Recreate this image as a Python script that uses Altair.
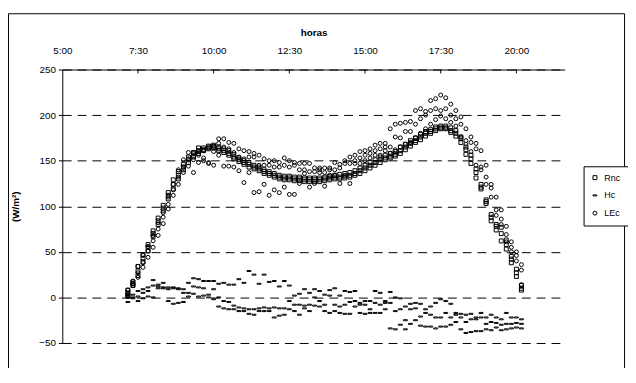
import altair as alt
import pandas as pd

times = ["7:10","7:20","7:30","7:40","7:50","8:00","8:10","8:20","8:30","8:40","8:50",
         "9:00","9:10","9:20","9:30","9:40","9:50","10:00","10:10","10:20","10:30","10:40","10:50",
         "11:00","11:10","11:20","11:30","11:40","11:50","12:00","12:10","12:20","12:30","12:40","12:50",
         "13:00","13:10","13:20","13:30","13:40","13:50","14:00","14:10","14:20","14:30","14:40","14:50",
         "15:00","15:10","15:20","15:30","15:40","15:50","16:00","16:10","16:20","16:30","16:40","16:50",
         "17:00","17:10","17:20","17:30","17:40","17:50","18:00","18:10","18:20","18:30","18:40","18:50",
         "19:00","19:10","19:20","19:30","19:40","19:50","20:00","20:10"]

series_names = ["Rnc", "Hc", "LEc"]

rnc_a = [2,13,24,39,51,67,80,95,108,119,130,140,148,154,158,161,163,164,161,159,156,152,149,146,143,141,139,136,134,132,130,129,129,128,128,127,127,127,127,128,129,130,130,131,132,134,136,139,142,145,148,151,153,155,158,162,166,170,173,177,180,183,185,185,181,177,170,157,147,131,119,103,84,74,62,53,38,23,8]
rnc_b = [5,15,29,43,55,70,84,98,112,124,134,143,151,156,161,162,165,165,163,161,158,154,151,148,146,143,141,138,136,134,132,131,131,130,130,129,129,129,129,130,131,132,132,133,134,136,139,142,145,148,151,153,155,157,161,165,169,172,176,180,182,185,186,186,183,180,174,162,152,137,121,105,88,78,70,58,42,27,10]
rnc_c = [8,17,34,47,58,73,87,101,115,129,138,146,154,159,164,164,166,167,165,163,161,157,153,150,148,145,143,140,138,136,134,133,133,132,132,131,131,131,131,132,133,134,135,136,137,139,142,145,148,151,154,156,158,160,165,168,172,175,179,182,184,187,188,188,186,183,176,165,156,141,124,107,91,80,77,63,45,31,13]

hc_hi  = [2,3,7,9,11,19,14,16,11,11,10,9,16,21,20,18,18,18,15,16,14,14,20,16,29,25,15,25,17,18,12,18,13,2,4,9,5,9,7,3,8,10,2,7,6,7,-6,-4,-4,7,5,-4,6,0,-1,-10,-7,-6,-7,-13,-10,-6,-2,-4,-7,-17,-18,-19,-18,-22,-17,-22,-19,-22,-24,-17,-22,-22,-24]
hc_mid = [0,0,1,5,7,13,12,11,9,10,9,5,5,12,11,10,3,9,0,-4,-5,-9,-11,-12,-13,-13,-12,-11,-12,-11,-12,-12,-4,-8,-8,-9,-8,0,-4,-8,2,-8,-10,-8,-5,-4,-8,-8,-13,-6,-8,-6,-6,-15,-13,-25,-13,-12,-21,-17,-19,-22,-22,-17,-22,-19,-22,-27,-24,-24,-22,-29,-27,-28,-30,-29,-29,-28,-29]
hc_lo  = [-5,-1,-4,-1,1,0,10,10,-4,-7,-6,-5,1,4,1,2,0,-2,-10,-12,-13,-13,-15,-15,-18,-19,-15,-15,-15,-22,-20,-19,-13,-15,-19,-12,-15,-9,-10,-15,-17,-15,-17,-18,-18,-10,-17,-18,-17,-17,-17,-13,-34,-35,-30,-35,-29,-25,-31,-32,-32,-34,-32,-32,-30,-27,-35,-39,-38,-37,-37,-35,-36,-33,-36,-35,-34,-33,-34]

lec_up  = [8,18,34,46,56,68,82,93,110,124,140,151,159,158,160,161,164,166,174,174,170,169,163,161,160,158,156,152,150,150,148,153,150,148,147,147,147,142,142,142,142,148,146,150,154,156,160,161,163,167,169,169,185,190,191,192,193,205,207,204,216,218,222,219,212,205,198,185,176,169,161,145,124,110,96,78,61,50,36]
lec_mid = [4,15,27,38,51,62,75,88,102,118,132,143,152,151,156,153,148,160,169,165,163,159,154,152,154,154,145,145,145,143,143,145,143,145,140,140,138,138,140,137,140,140,142,147,147,150,153,156,158,161,163,165,165,176,175,182,182,190,196,200,205,207,205,207,200,196,190,172,170,163,143,132,120,96,86,69,55,46,30]
lec_lo  = [1,13,22,33,44,55,68,81,97,112,124,137,144,137,148,150,147,145,156,144,144,143,139,126,137,115,116,124,112,118,115,121,113,113,125,136,121,125,137,122,134,134,125,134,125,147,147,150,153,156,156,161,158,162,165,168,170,175,180,185,190,195,199,196,192,188,176,168,160,145,140,124,110,90,80,61,50,40,14]

x_tick_hours = [5, 7.5, 10, 12.5, 15, 17.5, 20]
inner_tick_hours = [7.5, 10, 12.5, 15, 17.5, 20]
y_ticks = [-50, 0, 50, 100, 150, 200, 250]


def to_hours(s):
    h, m = s.split(":")
    return int(h) + int(m) / 60.0


rows = []
groups = [("Rnc", [rnc_a, rnc_b, rnc_c]),
          ("Hc", [hc_hi, hc_mid, hc_lo]),
          ("LEc", [lec_up, lec_mid, lec_lo])]
for name, lists in groups:
    for lst in lists:
        for t, v in zip(times, lst):
            rows.append({"h": to_hours(t), "serie": name, "v": v})
df = pd.DataFrame(rows)

FONT = "Liberation Sans"

x_enc = alt.X(
    "h:Q",
    scale=alt.Scale(domain=[5, 21.6], nice=False, zero=False),
    axis=alt.Axis(
        orient="top", values=x_tick_hours,
        labelExpr="floor(datum.value) + ':' + (datum.value % 1 == 0.5 ? '30' : '00')",
        title="horas", grid=False, ticks=False, labelPadding=14, labelFlush=False,
        labelOverlap=False,
        domainColor="black", domainWidth=1, labelColor="black",
        labelFont=FONT, labelFontSize=10, titleFont=FONT, titleFontSize=10,
        titleFontWeight="bold", titleColor="black", titleY=-37, titleBaseline="middle",
    ),
)

y_enc = alt.Y(
    "v:Q",
    scale=alt.Scale(domain=[-50, 250], nice=False, zero=False),
    axis=alt.Axis(
        values=y_ticks, title="(W/m²)", grid=True, gridDash=[9, 6],
        gridColor="black", gridWidth=1, gridOpacity=1, labelFlush=False,
        tickSize=4, tickColor="black", domainColor="black", domainWidth=1,
        labelPadding=3, labelColor="black", labelFont=FONT, labelFontSize=10,
        titleFont=FONT, titleFontSize=10, titleFontWeight="bold", titleColor="black",
        titleX=-47, titleY=138.5, titleAngle=270, titleAlign="center", titleBaseline="middle",
    ),
)

points = alt.Chart(df).mark_point(filled=False, size=16, strokeWidth=1, color="black", opacity=1).encode(
    x=x_enc,
    y=y_enc,
    shape=alt.Shape(
        "serie:N",
        scale=alt.Scale(domain=series_names, range=["square", "M-1,-0.25H1V0.25H-1Z", "circle"]),
        legend=alt.Legend(
            orient="none", legendX=528, legendY=98, title=None,
            strokeColor="black", fillColor="white", padding=7, rowPadding=8,
            symbolSize=16, symbolStrokeWidth=1, symbolStrokeColor="black",
            labelFont=FONT, labelFontSize=9, labelColor="black", labelOffset=5,
            cornerRadius=0,
        ),
    ),
)

ticks_df = pd.DataFrame({"h": inner_tick_hours})
inner_ticks = alt.Chart(ticks_df).mark_rule(color="black", strokeWidth=1).encode(
    x=x_enc, y=alt.value(0), y2=alt.value(4)
)

frame_df = pd.DataFrame({"k": [1]})
frame = alt.Chart(frame_df).mark_rect(fillOpacity=0, stroke="black", strokeWidth=1).encode(
    x=alt.value(-54.5), x2=alt.value(569.5), y=alt.value(-56.5), y2=alt.value(340)
)

chart = alt.layer(frame, points, inner_ticks).properties(
    width=509, height=277,
    padding={"left": 55, "top": 60, "right": 64, "bottom": 23},
    autosize=alt.AutoSizeParams(type="none"),
    background="white",
).configure_view(stroke="transparent")

chart.save("out.html", embed_options={"renderer": "svg", "actions": False})
